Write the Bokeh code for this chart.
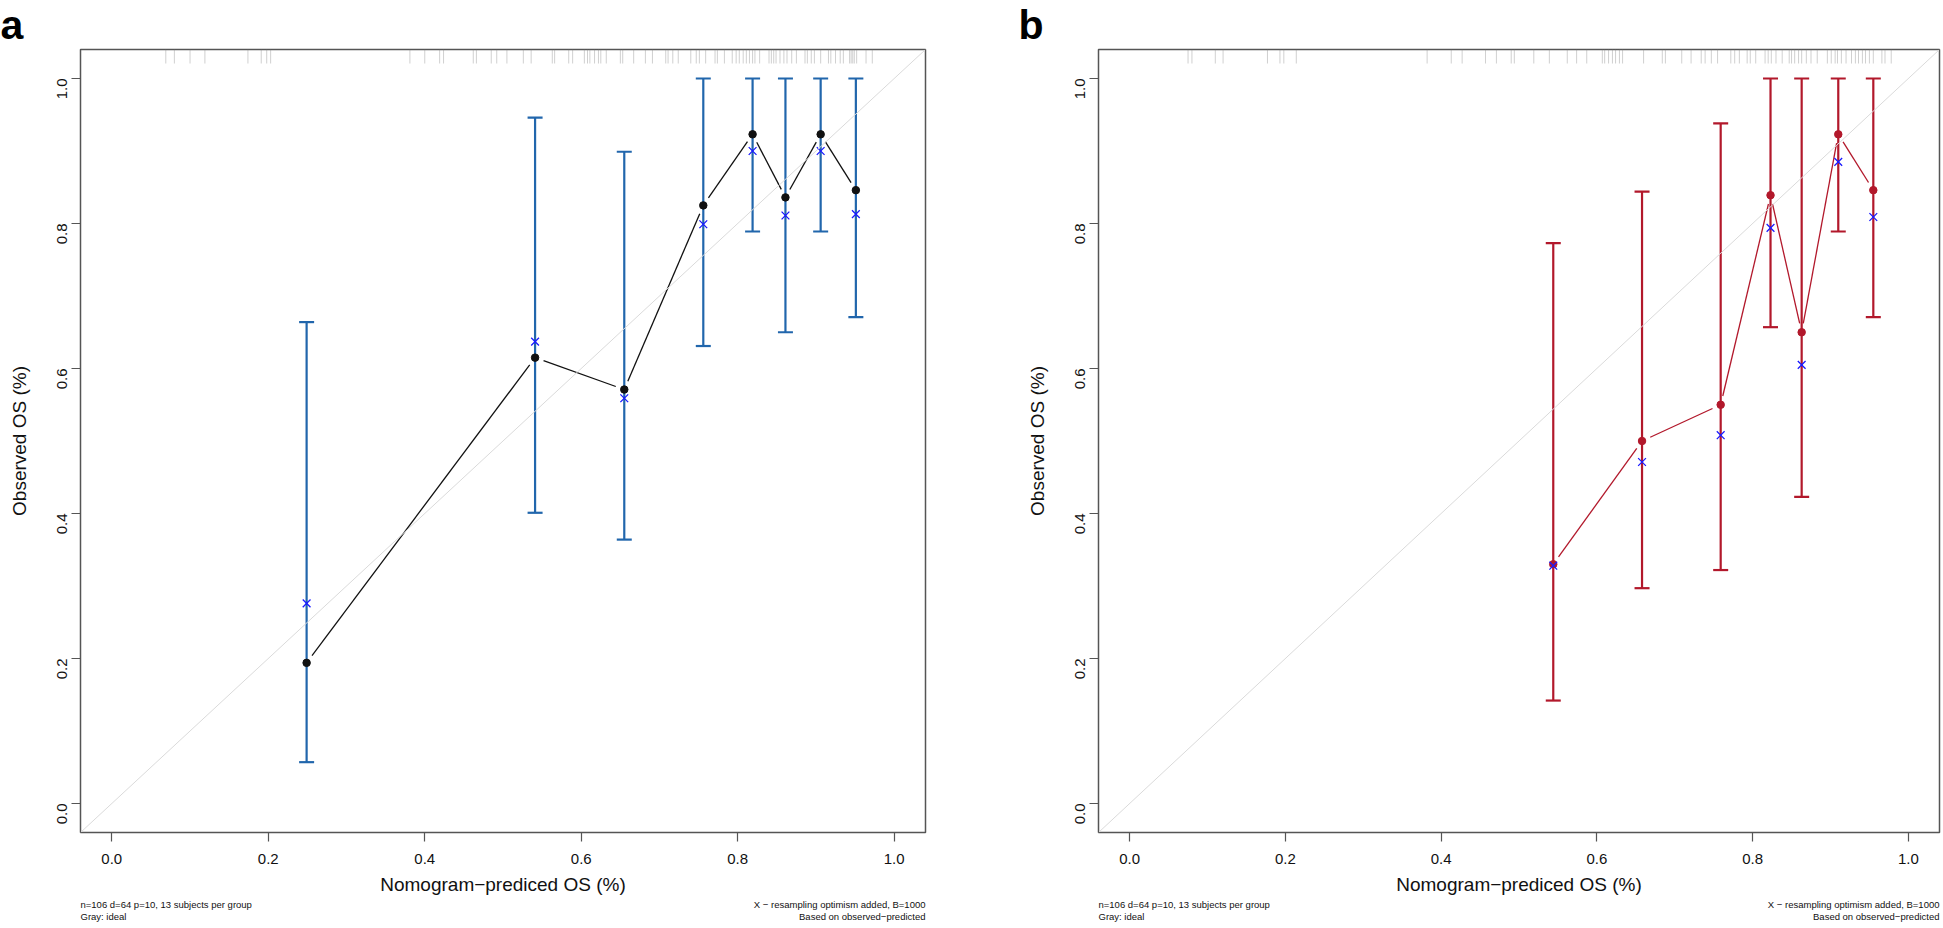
import math
from bokeh.plotting import figure
from bokeh.models import (Range1d, FixedTicker, Slope, Whisker, TeeHead,
                          ColumnDataSource)
from bokeh.core.properties import value
from bokeh.layouts import row, column
from bokeh.embed import file_html
from bokeh.resources import INLINE

# ---------------- data ----------------
ticks = [0.0, 0.2, 0.4, 0.6, 0.8, 1.0]
tick_labels = ["0.0", "0.2", "0.4", "0.6", "0.8", "1.0"]

x_title = "Nomogram\u2212prediced OS (%)"
y_title = "Observed OS (%)"
foot_left = ["n=106 d=64 p=10, 13 subjects per group", "Gray: ideal"]
foot_right = ["X \u2212 resampling optimism added, B=1000", "Based on observed\u2212predicted"]

# panel a
a_pred = [0.249, 0.541, 0.655, 0.756, 0.819, 0.861, 0.906, 0.951]
a_obs = [0.194, 0.615, 0.571, 0.825, 0.923, 0.836, 0.923, 0.846]
a_corr = [0.276, 0.637, 0.559, 0.799, 0.900, 0.811, 0.900, 0.813]
a_lower = [0.057, 0.401, 0.364, 0.631, 0.789, 0.650, 0.789, 0.671]
a_upper = [0.664, 0.946, 0.899, 1.000, 1.000, 1.000, 1.000, 1.000]
a_rug = [0.069, 0.080, 0.100, 0.119, 0.174, 0.191, 0.198, 0.203, 0.381, 0.400,
         0.419, 0.424, 0.462, 0.466, 0.485, 0.492, 0.505, 0.526, 0.536, 0.563,
         0.566, 0.584, 0.589, 0.604, 0.608, 0.611, 0.617, 0.622, 0.625, 0.632,
         0.650, 0.653, 0.667, 0.682, 0.691, 0.708, 0.711, 0.717, 0.724, 0.740,
         0.747, 0.751, 0.759, 0.771, 0.774, 0.783, 0.793, 0.798, 0.802, 0.807,
         0.811, 0.815, 0.819, 0.822, 0.828, 0.840, 0.843, 0.846, 0.849, 0.854,
         0.859, 0.863, 0.869, 0.875, 0.886, 0.889, 0.894, 0.898, 0.906, 0.916,
         0.919, 0.925, 0.931, 0.935, 0.943, 0.945, 0.947, 0.949, 0.952, 0.964,
         0.972]

# panel b
b_pred = [0.544, 0.658, 0.759, 0.823, 0.863, 0.910, 0.955]
b_obs = [0.330, 0.500, 0.550, 0.839, 0.650, 0.923, 0.846]
b_corr = [0.328, 0.471, 0.508, 0.794, 0.605, 0.885, 0.809]
b_lower = [0.142, 0.297, 0.322, 0.657, 0.423, 0.789, 0.671]
b_upper = [0.773, 0.844, 0.938, 1.000, 1.000, 1.000, 1.000]
b_rug = [0.075, 0.080, 0.110, 0.120, 0.177, 0.193, 0.198, 0.214, 0.382, 0.413,
         0.427, 0.457, 0.471, 0.490, 0.494, 0.519, 0.539, 0.562, 0.574, 0.587,
         0.607, 0.610, 0.615, 0.620, 0.624, 0.629, 0.633, 0.660, 0.684, 0.688,
         0.709, 0.721, 0.734, 0.739, 0.747, 0.755, 0.772, 0.777, 0.783, 0.793,
         0.797, 0.804, 0.816, 0.820, 0.824, 0.830, 0.838, 0.847, 0.850, 0.854,
         0.859, 0.863, 0.869, 0.875, 0.883, 0.896, 0.901, 0.906, 0.909, 0.914,
         0.920, 0.927, 0.932, 0.936, 0.941, 0.945, 0.950, 0.955, 0.966, 0.970,
         0.978]

# ---------------- style / layout ----------------
FONT = "Liberation Sans"
LIM = (-0.04, 1.04)
FRAME_H = 783
TOP = 1
BOTTOM = 67
HEAD_H = 48
FOOT_H = 25
KY = FRAME_H / (LIM[1] - LIM[0])
RUG_PX = 14
GAP_PX = 9
BOX = "#555555"


def gapped_segments(xs, ys, kx):
    x0, y0, x1, y1 = [], [], [], []
    for i in range(len(xs) - 1):
        dx = (xs[i + 1] - xs[i]) * kx
        dy = (ys[i + 1] - ys[i]) * KY
        L = math.hypot(dx, dy)
        if L <= 2 * GAP_PX:
            continue
        t = GAP_PX / L
        x0.append(xs[i] + t * (xs[i + 1] - xs[i]))
        y0.append(ys[i] + t * (ys[i + 1] - ys[i]))
        x1.append(xs[i + 1] - t * (xs[i + 1] - xs[i]))
        y1.append(ys[i + 1] - t * (ys[i + 1] - ys[i]))
    return x0, y0, x1, y1


def strip(width, height):
    s = figure(width=width, height=height, x_range=Range1d(0, width),
               y_range=Range1d(0, height), x_axis_type=None, y_axis_type=None,
               output_backend="svg", toolbar_location=None, min_border=0,
               frame_align=False)
    s.grid.visible = False
    s.outline_line_color = None
    s.background_fill_color = "white"
    s.border_fill_color = "white"
    return s


def make_panel(letter, letter_dx, pred, obs, corr, lower, upper, rug, bar_color,
               pt_color, left, frame_w, right):
    kx = frame_w / (LIM[1] - LIM[0])
    width = left + frame_w + right
    p = figure(width=width, height=TOP + FRAME_H + BOTTOM,
               x_range=Range1d(*LIM), y_range=Range1d(*LIM),
               output_backend="svg", toolbar_location=None,
               min_border_left=left, min_border_right=right,
               min_border_top=TOP, min_border_bottom=BOTTOM,
               frame_align=False)
    p.background_fill_color = "white"
    p.border_fill_color = "white"
    p.grid.visible = False
    p.outline_line_color = BOX
    p.outline_line_width = 1.5

    for ax in (p.xaxis, p.yaxis):
        ax.ticker = FixedTicker(ticks=ticks)
        ax.major_label_overrides = {t: l for t, l in zip(ticks, tick_labels)}
        ax.minor_tick_line_color = None
        ax.axis_line_color = None
        ax.major_tick_in = 0
        ax.major_tick_out = 9
        ax.major_tick_line_color = BOX
        ax.major_tick_line_width = 1.2
        ax.major_label_text_font = FONT
        ax.major_label_text_font_size = "15px"
        ax.major_label_text_color = "#111111"
        ax.axis_label_text_font = FONT
        ax.axis_label_text_font_size = "19px"
        ax.axis_label_text_font_style = "normal"
        ax.axis_label_text_color = "#111111"
    p.xaxis.axis_label = x_title
    p.yaxis.axis_label = y_title
    p.xaxis.major_label_standoff = 12
    p.xaxis.axis_label_standoff = 7
    p.yaxis.major_label_orientation = math.pi / 2
    p.yaxis.major_label_standoff = 10
    p.yaxis.axis_label_standoff = 19

    # rug of predicted values at top
    n = len(rug)
    p.segment(x0=rug, y0=[LIM[1]] * n, x1=rug, y1=[LIM[1] - RUG_PX / KY] * n,
              line_color="#8a8a8a", line_alpha=0.4, line_width=1)

    # error bars
    src = ColumnDataSource(dict(base=pred, lower=lower, upper=upper))
    p.add_layout(Whisker(base="base", lower="lower", upper="upper", source=src,
                         line_color=bar_color, line_width=2.2,
                         upper_head=TeeHead(size=15, line_color=bar_color, line_width=2.2),
                         lower_head=TeeHead(size=15, line_color=bar_color, line_width=2.2)))

    # connecting line (with gaps around points, like R type="b")
    x0, y0, x1, y1 = gapped_segments(pred, obs, kx)
    p.segment(x0=x0, y0=y0, x1=x1, y1=y1, line_color=pt_color, line_width=1.3)
    p.scatter(pred, obs, size=7.5, fill_color=pt_color, line_color=pt_color)
    p.scatter(pred, corr, marker="x", size=11, line_color="#1a1aff", line_width=1.3)

    # ideal line
    p.add_layout(Slope(gradient=1, y_intercept=0, line_color="#dadada", line_width=1))

    # header strip with panel letter
    head = strip(width, HEAD_H)
    head.text(x=[max(left - letter_dx, 0)], y=[HEAD_H / 2], text=[letter],
              text_align="left", text_baseline="middle", text_font=value(FONT),
              text_font_size="41px", text_font_style="bold", text_color="#000000")

    # footer strip with notes
    foot = strip(width, FOOT_H)
    ys = [FOOT_H - 5, FOOT_H - 17]
    foot.text(x=[left] * 2, y=ys, text=foot_left, text_align="left",
              text_baseline="middle", text_font=value(FONT),
              text_font_size="9.5px", text_color="#111111")
    foot.text(x=[left + frame_w] * 2, y=ys, text=foot_right, text_align="right",
              text_baseline="middle", text_font=value(FONT),
              text_font_size="9.5px", text_color="#111111")
    return column(head, p, foot, spacing=0)


pa = make_panel("a", 80, a_pred, a_obs, a_corr, a_lower, a_upper, a_rug,
                "#2166ac", "#111111", left=80, frame_w=845, right=55)
pb = make_panel("b", 80, b_pred, b_obs, b_corr, b_lower, b_upper, b_rug,
                "#b2182b", "#b2182b", left=118, frame_w=841, right=3)

layout = row(pa, pb, spacing=0)
open("out.html", "w").write(file_html(layout, INLINE))
